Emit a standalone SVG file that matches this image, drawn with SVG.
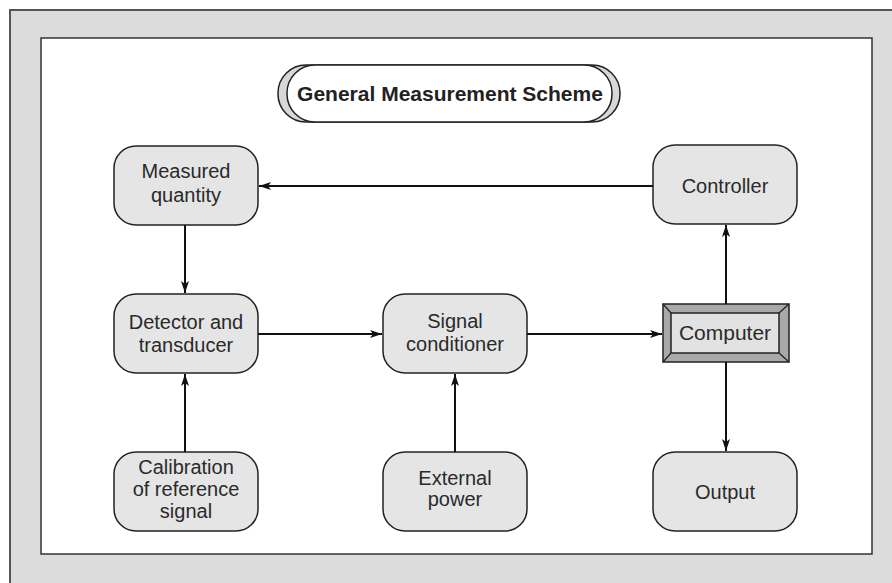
<svg xmlns="http://www.w3.org/2000/svg" width="892" height="583" viewBox="0 0 892 583">
<style>
.node{fill:#e5e5e5;stroke:#222;stroke-width:1.5}
.lbl{font-family:"Liberation Sans",Arial,sans-serif;font-size:20px;fill:#2a2a2a;text-anchor:middle}
.conn{stroke:#111;stroke-width:2;fill:none;marker-end:url(#ah)}
</style>
<defs>
<marker id="ah" viewBox="0 0 12 8" refX="12" refY="4" markerWidth="12" markerHeight="8" markerUnits="userSpaceOnUse" orient="auto">
<path d="M0,0 L12,4 L0,8 L3,4 Z" fill="#111"/>
</marker>
</defs>
<rect x="0" y="0" width="892" height="583" fill="#ffffff"/>
<rect x="9" y="9" width="883" height="574" fill="#dcdcdc"/>
<path d="M10,583 V10 H892" fill="none" stroke="#555" stroke-width="2"/>
<rect x="41" y="38" width="831" height="516" fill="#ffffff" stroke="#333" stroke-width="1.5"/>

<g id="title">
<rect x="278" y="65" width="342" height="57" rx="28" fill="#d8d8d8" stroke="#222" stroke-width="1.5"/>
<rect x="287" y="65" width="325" height="57" rx="28" fill="#ffffff" stroke="#222" stroke-width="1.5"/>
<text class="lbl" x="450" y="101" font-weight="bold" style="fill:#222;font-size:21px">General Measurement Scheme</text>
</g>

<g id="measured">
<rect class="node" x="114" y="146" width="144" height="79" rx="22"/>
<text class="lbl" x="186" y="178">Measured</text>
<text class="lbl" x="186" y="202">quantity</text>
</g>
<g id="controller">
<rect class="node" x="653" y="145" width="144" height="79" rx="22"/>
<text class="lbl" x="725" y="193">Controller</text>
</g>
<g id="detector">
<rect class="node" x="114" y="294" width="144" height="79" rx="22"/>
<text class="lbl" x="186" y="329">Detector and</text>
<text class="lbl" x="186" y="352">transducer</text>
</g>
<g id="conditioner">
<rect class="node" x="383" y="294" width="144" height="79" rx="22"/>
<text class="lbl" x="455" y="328">Signal</text>
<text class="lbl" x="455" y="351">conditioner</text>
</g>
<g id="computer">
<rect x="663" y="304" width="126" height="58" fill="#a9a9a9" stroke="#222" stroke-width="1.5"/>
<path d="M663,304 L671,313 M789,304 L779,313 M663,362 L671,353 M789,362 L779,353" stroke="#222" stroke-width="1.2"/>
<rect x="671" y="313" width="108" height="40" fill="#e2e2e2" stroke="#222" stroke-width="1.5"/>
<text class="lbl" x="725" y="340" style="font-size:21px">Computer</text>
</g>
<g id="calibration">
<rect class="node" x="114" y="452" width="144" height="79" rx="22"/>
<text class="lbl" x="186" y="474">Calibration</text>
<text class="lbl" x="186" y="496">of reference</text>
<text class="lbl" x="186" y="518">signal</text>
</g>
<g id="power">
<rect class="node" x="383" y="452" width="144" height="79" rx="22"/>
<text class="lbl" x="455" y="485">External</text>
<text class="lbl" x="455" y="506">power</text>
</g>
<g id="output">
<rect class="node" x="653" y="452" width="144" height="79" rx="22"/>
<text class="lbl" x="725" y="499">Output</text>
</g>

<g id="connectors">
<line class="conn" x1="653" y1="186" x2="259" y2="186"/>
<line class="conn" x1="185" y1="225" x2="185" y2="293"/>
<line class="conn" x1="258" y1="334" x2="382" y2="334"/>
<line class="conn" x1="527" y1="334" x2="662" y2="334"/>
<line class="conn" x1="726" y1="304" x2="726" y2="225"/>
<line class="conn" x1="726" y1="362" x2="726" y2="451"/>
<line class="conn" x1="185" y1="452" x2="185" y2="374"/>
<line class="conn" x1="455" y1="452" x2="455" y2="374"/>
</g>
</svg>
